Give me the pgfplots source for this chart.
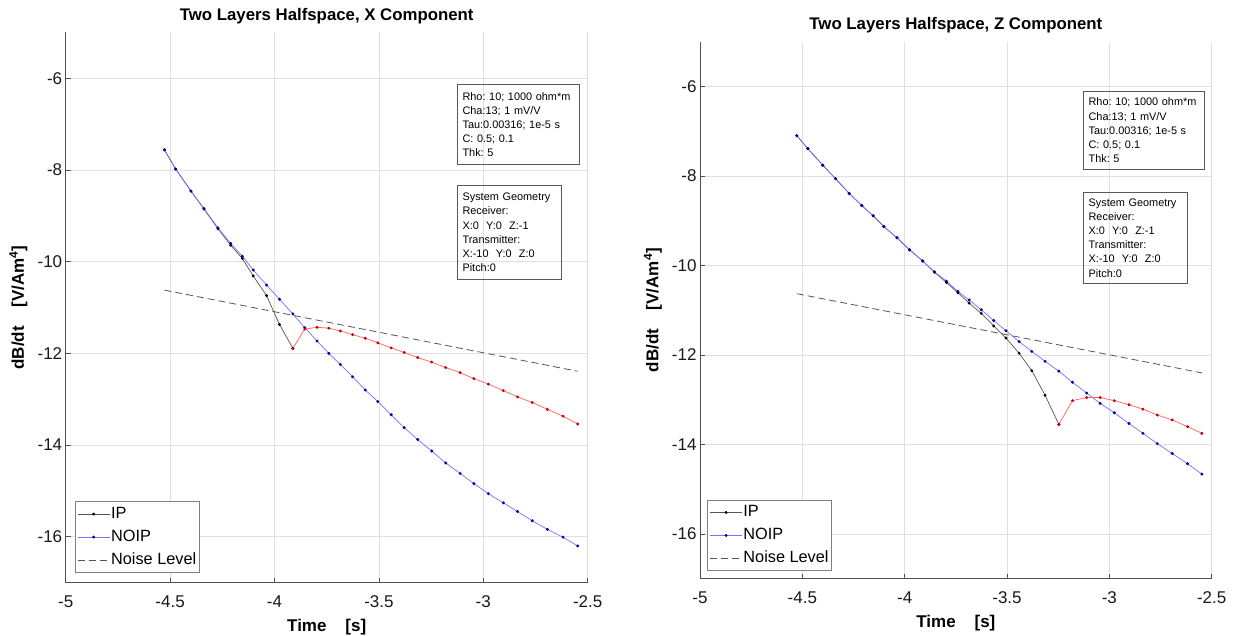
\documentclass[border=0pt]{standalone}
\usepackage{fontspec}
\setmainfont{Liberation Sans}
\usepackage{pgfplots}
\pgfplotsset{compat=1.18}
\frenchspacing
\definecolor{ipline}{RGB}{85,85,85}
\definecolor{noipline}{RGB}{115,115,255}
\definecolor{noipmark}{RGB}{0,0,160}
\definecolor{negline}{RGB}{255,95,95}
\definecolor{negmark}{RGB}{200,0,0}
\definecolor{noisec}{RGB}{85,85,85}
\definecolor{axc}{RGB}{80,80,80}

\pgfplotsset{
  myaxis/.style={
    scale only axis,
    anchor=south west,
    xmin=-5, xmax=-2.5, ymin=-17, ymax=-5,
    xtick={-5,-4.5,-4,-3.5,-3,-2.5}, ytick={-16,-14,-12,-10,-8,-6},
    grid=major, major grid style={color=black!12, line width=0.7pt},
    axis x line*=bottom, axis y line*=left,
    axis line style={color=axc, line width=0.8pt, -},
    tick style={color=axc, line width=0.8pt},
    major tick length=5pt,
    tick align=inside,
    /pgf/number format/assume math mode=true,
    tick label style={font=\fontsize{17}{20}\selectfont, color=black!90},
    xticklabel style={anchor=base, yshift=-25pt},
    title style={at={(0.5,1)}, anchor=base, yshift=6.3pt, font=\fontsize{16.8}{20}\selectfont\bfseries},
    every axis x label/.style={at={(rel axis cs:0.5,0)}, anchor=base, yshift=-49pt, font=\fontsize{17}{20}\selectfont\bfseries},
    every axis y label/.style={at={(rel axis cs:0,0.5)}, rotate=90, anchor=base, yshift=41.7pt, font=\fontsize{17}{20}\selectfont\bfseries},
    xlabel={Time\ \ \ \ [s]},
    ylabel={dB/dt\ \ \ \ [V/Am\textsuperscript{4}]},
    legend cell align=left,
    legend style={draw=black!50, line width=0.6pt, fill=white,
      font=\fontsize{16.3}{19}\selectfont,
      inner xsep=2pt, inner ysep=3.8pt, row sep=6pt,
      nodes={inner sep=1pt, text height=12pt, text depth=3pt}},
    legend image code/.code={\draw[mark repeat=2,mark phase=2,#1] plot coordinates {(0pt,0pt) (16pt,0pt) (32pt,0pt)};},
  },
  ipst/.style={color=ipline, line width=0.7pt, mark=*, mark size=1.1pt, mark options={fill=black, draw=black}},
  noipst/.style={color=noipline, line width=0.7pt, mark=*, mark size=1.1pt, mark options={fill=noipmark, draw=noipmark}},
  negst/.style={color=negline, line width=0.7pt, mark=*, mark size=1.1pt, mark options={fill=negmark, draw=negmark}},
  noisest/.style={color=noisec, line width=0.8pt, dash pattern=on 7pt off 4pt},
}

\begin{document}
\begin{tikzpicture}
\useasboundingbox (0pt,0pt) rectangle (1234pt,636pt);

% ---------------- Left: X component ----------------
\begin{axis}[myaxis, at={(65.7pt,53.4pt)}, width=522pt, height=550.1pt,
  title={Two Layers Halfspace, X Component},
  legend style={at={(0.0178,0.018)}, anchor=south west}]
\addplot[ipst] coordinates {(-4.527,-7.56)(-4.473,-7.98)(-4.400,-8.46)(-4.338,-8.85)(-4.271,-9.28)(-4.210,-9.64)(-4.154,-9.93)(-4.102,-10.31)(-4.038,-10.74)(-3.976,-11.37)(-3.912,-11.89)};
\addlegendentry{IP}
\addplot[noipst] coordinates {(-4.527,-7.56)(-4.473,-7.98)(-4.400,-8.46)(-4.338,-8.84)(-4.271,-9.26)(-4.210,-9.60)(-4.154,-9.88)(-4.102,-10.18)(-4.038,-10.51)(-3.976,-10.82)(-3.912,-11.14)(-3.855,-11.44)(-3.796,-11.73)(-3.740,-12.00)(-3.685,-12.24)(-3.626,-12.51)(-3.565,-12.80)(-3.505,-13.05)(-3.441,-13.34)(-3.379,-13.62)(-3.314,-13.88)(-3.247,-14.13)(-3.180,-14.39)(-3.111,-14.62)(-3.045,-14.84)(-2.976,-15.06)(-2.904,-15.26)(-2.836,-15.45)(-2.766,-15.65)(-2.693,-15.84)(-2.618,-16.01)(-2.548,-16.20)};
\addlegendentry{NOIP}
\addplot[noisest] coordinates {(-4.527,-10.62)(-2.548,-12.39)};
\addlegendentry{Noise Level}
\addplot[negst, forget plot] coordinates {(-3.912,-11.89)(-3.855,-11.47)(-3.796,-11.43)(-3.740,-11.45)(-3.685,-11.51)(-3.626,-11.59)(-3.565,-11.67)(-3.505,-11.77)(-3.441,-11.88)(-3.379,-11.98)(-3.314,-12.09)(-3.247,-12.19)(-3.180,-12.31)(-3.111,-12.42)(-3.045,-12.55)(-2.976,-12.67)(-2.904,-12.81)(-2.836,-12.95)(-2.766,-13.07)(-2.693,-13.22)(-2.618,-13.37)(-2.548,-13.54)};
\node[draw=black!65, line width=0.7pt, anchor=north west, text width=112pt, minimum height=80pt, inner xsep=5pt, inner ysep=0pt, align=left, font=\fontsize{10.9}{14.2}\selectfont] at (rel axis cs:0.750,0.906)
  {Rho: 10; 1000 ohm*m\\Cha:13; 1 mV/V\\Tau:0.00316; 1e-5 s\\C: 0.5; 0.1\\Thk: 5};
\node[draw=black!65, line width=0.7pt, anchor=north west, text width=93.4pt, minimum height=94.3pt, inner xsep=5pt, inner ysep=0pt, align=left, font=\fontsize{10.9}{14.2}\selectfont] at (rel axis cs:0.750,0.7228)
  {System Geometry\\Receiver:\\X:0\ \ Y:0\ \ Z:-1\\Transmitter:\\X:-10\ \ Y:0\ \ Z:0\\Pitch:0};
\end{axis}

% ---------------- Right: Z component ----------------
\begin{axis}[myaxis, at={(700pt,57.2pt)}, width=511.7pt, height=537.1pt,
  title={Two Layers Halfspace, Z Component},
  legend style={at={(0.0143,0.0145)}, anchor=south west}]
\addplot[ipst] coordinates {(-4.527,-7.10)(-4.473,-7.39)(-4.400,-7.76)(-4.338,-8.06)(-4.271,-8.39)(-4.210,-8.66)(-4.154,-8.89)(-4.102,-9.13)(-4.038,-9.38)(-3.976,-9.65)(-3.912,-9.90)(-3.855,-10.15)(-3.796,-10.38)(-3.740,-10.61)(-3.685,-10.84)(-3.626,-11.07)(-3.565,-11.35)(-3.505,-11.62)(-3.441,-11.96)(-3.379,-12.35)(-3.314,-12.90)(-3.247,-13.55)};
\addlegendentry{IP}
\addplot[noipst] coordinates {(-4.527,-7.10)(-4.473,-7.39)(-4.400,-7.76)(-4.338,-8.06)(-4.271,-8.39)(-4.210,-8.66)(-4.154,-8.89)(-4.102,-9.13)(-4.038,-9.38)(-3.976,-9.65)(-3.912,-9.90)(-3.855,-10.14)(-3.796,-10.35)(-3.740,-10.58)(-3.685,-10.77)(-3.626,-10.99)(-3.565,-11.23)(-3.505,-11.46)(-3.441,-11.70)(-3.379,-11.92)(-3.314,-12.14)(-3.247,-12.36)(-3.180,-12.61)(-3.111,-12.85)(-3.045,-13.08)(-2.976,-13.29)(-2.904,-13.53)(-2.836,-13.75)(-2.766,-13.98)(-2.693,-14.20)(-2.618,-14.43)(-2.548,-14.66)};
\addlegendentry{NOIP}
\addplot[noisest] coordinates {(-4.527,-10.63)(-2.548,-12.40)};
\addlegendentry{Noise Level}
\addplot[negst, forget plot] coordinates {(-3.247,-13.55)(-3.180,-13.02)(-3.111,-12.95)(-3.045,-12.95)(-2.976,-13.02)(-2.904,-13.11)(-2.836,-13.21)(-2.766,-13.34)(-2.693,-13.45)(-2.618,-13.60)(-2.548,-13.75)};
\node[draw=black!65, line width=0.7pt, anchor=north west, text width=111pt, minimum height=78pt, inner xsep=5pt, inner ysep=0pt, align=left, font=\fontsize{10.9}{14.2}\selectfont] at (rel axis cs:0.749,0.908)
  {Rho: 10; 1000 ohm*m\\Cha:13; 1 mV/V\\Tau:0.00316; 1e-5 s\\C: 0.5; 0.1\\Thk: 5};
\node[draw=black!65, line width=0.7pt, anchor=north west, text width=93.4pt, minimum height=91.6pt, inner xsep=5pt, inner ysep=0pt, align=left, font=\fontsize{10.9}{14.2}\selectfont] at (rel axis cs:0.749,0.7207)
  {System Geometry\\Receiver:\\X:0\ \ Y:0\ \ Z:-1\\Transmitter:\\X:-10\ \ Y:0\ \ Z:0\\Pitch:0};
\end{axis}
\end{tikzpicture}
\end{document}
